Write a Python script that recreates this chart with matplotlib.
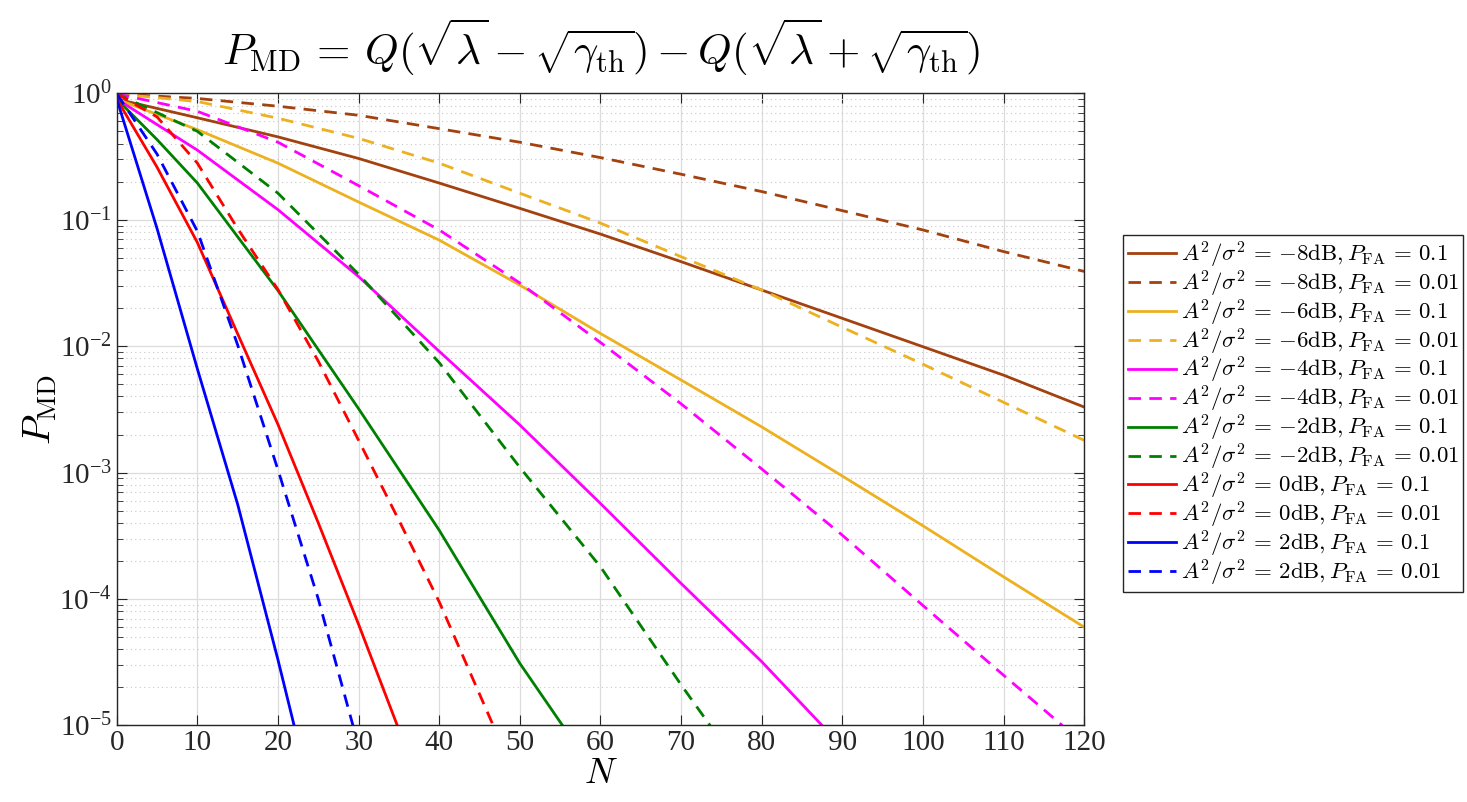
import numpy as np
import matplotlib
matplotlib.use("Agg")
import matplotlib.pyplot as plt

# values (P_MD vs N)
n_gentle = [0, 10, 20, 30, 40, 50, 60, 70, 80, 90, 100, 110, 120]
pmd_m8_01 = [0.9, 0.64, 0.452, 0.305, 0.195, 0.123, 0.077, 0.0466, 0.0278, 0.0166, 0.0099, 0.0059, 0.0033]
pmd_m8_001 = [0.99, 0.91, 0.79, 0.67, 0.525, 0.41, 0.31, 0.229, 0.167, 0.118, 0.083, 0.056, 0.039]
pmd_m6_01 = [0.9, 0.515, 0.28, 0.138, 0.069, 0.0304, 0.0126, 0.0054, 0.0023, 9.4e-4, 3.8e-4, 1.5e-4, 6.0e-5]
pmd_m6_001 = [0.99, 0.86, 0.635, 0.44, 0.28, 0.162, 0.094, 0.051, 0.0278, 0.0141, 0.0072, 0.0036, 0.0018]

n_m4_01 = [0, 10, 20, 30, 40, 50, 60, 70, 80, 87.5]
pmd_m4_01 = [0.9, 0.355, 0.12, 0.0355, 0.0091, 0.00238, 5.7e-4, 1.33e-4, 3.2e-5, 1e-5]
n_m4_001 = [0, 10, 20, 30, 40, 50, 60, 70, 80, 90, 100, 110, 117.3]
pmd_m4_001 = [0.99, 0.72, 0.41, 0.186, 0.083, 0.0316, 0.0107, 0.0035, 1.07e-3, 3.2e-4, 8.9e-5, 2.5e-5, 1e-5]

n_m2_01 = [0, 5, 10, 20, 30, 40, 50, 55.3]
pmd_m2_01 = [0.9, 0.43, 0.195, 0.0275, 0.0032, 3.5e-4, 3.1e-5, 1e-5]
n_m2_001 = [0, 10, 20, 30, 40, 50, 60, 70, 73.6]
pmd_m2_001 = [0.99, 0.50, 0.162, 0.037, 0.0074, 1.1e-3, 1.8e-4, 2.1e-5, 1e-5]

n_0_01 = [0, 5, 10, 15, 20, 25, 30, 34.8]
pmd_0_01 = [0.9, 0.26, 0.066, 0.0125, 0.0024, 4.0e-4, 6.3e-5, 1e-5]
n_0_001 = [0, 5, 10, 15, 20, 25, 30, 35, 40, 46.7]
pmd_0_001 = [0.99, 0.65, 0.28, 0.085, 0.028, 0.0076, 0.0018, 4.2e-4, 9.5e-5, 1e-5]

n_2_01 = [0, 5, 10, 15, 20, 22]
pmd_2_01 = [0.9, 0.085, 0.0066, 5.6e-4, 3.3e-5, 1e-5]
n_2_001 = [0, 5, 10, 15, 20, 25, 29.3]
pmd_2_001 = [0.99, 0.33, 0.081, 0.0102, 0.00105, 1.0e-4, 1e-5]

snr_labels = ["{-}8", "{-}6", "{-}4", "{-}2", "0", "2"]
pfa_labels = ["0.1", "0.01"]
colors = ["#A3410F", "#EDB120", "#FF00FF", "#008000", "#FF0000", "#0000FF"]

series = [
    (n_gentle, pmd_m8_01), (n_gentle, pmd_m8_001),
    (n_gentle, pmd_m6_01), (n_gentle, pmd_m6_001),
    (n_m4_01, pmd_m4_01), (n_m4_001, pmd_m4_001),
    (n_m2_01, pmd_m2_01), (n_m2_001, pmd_m2_001),
    (n_0_01, pmd_0_01), (n_0_001, pmd_0_001),
    (n_2_01, pmd_2_01), (n_2_001, pmd_2_001),
]

plt.rcParams["font.family"] = "serif"
plt.rcParams["font.serif"] = ["Liberation Serif", "DejaVu Serif"]
plt.rcParams["mathtext.fontset"] = "cm"

fig = plt.figure(figsize=(14.67, 8.02), dpi=100)
ax = fig.add_axes([0.0796, 0.0954, 0.6594, 0.7883])

for i, (n, p) in enumerate(series):
    snr = snr_labels[i // 2]
    pfa = pfa_labels[i % 2]
    label = r"$A^2/\sigma^2 \,=\, %s\mathrm{dB}, P_{\mathrm{FA}} \,=\, %s$" % (snr, pfa)
    ls = "-" if i % 2 == 0 else (0, (4.5, 3))
    ax.plot(n, p, color=colors[i // 2], linestyle=ls, linewidth=2.0, label=label)

ax.set_yscale("log")
ax.set_xlim(0, 120)
ax.set_ylim(1e-5, 1)
ax.set_xticks(np.arange(0, 121, 10))
ax.set_yticks([1e-5, 1e-4, 1e-3, 1e-2, 1e-1, 1])
ax.tick_params(axis="both", which="both", direction="in", top=True, right=True,
               labelsize=21, color="#262626", labelcolor="#262626")
ax.tick_params(which="major", length=7, width=0.8)
ax.tick_params(which="minor", length=4, width=0.6)
ax.tick_params(axis="x", which="minor", bottom=False, top=False)
ax.grid(True, which="major", color="#dcdcdc", linewidth=0.9)
ax.grid(True, which="minor", axis="y", color="#c8c8c8", linestyle=(0, (1, 3)), linewidth=0.8)
ax.set_axisbelow(True)
for s in ax.spines.values():
    s.set_color("#262626")
    s.set_linewidth(1.0)

ax.set_xlabel(r"$N$", fontsize=26, labelpad=1)
ax.set_ylabel(r"$P_{\mathrm{MD}}$", fontsize=28, labelpad=0)
ax.set_title(r"$P_{\mathrm{MD}} \,=\, Q(\sqrt{\lambda} - \sqrt{\gamma_{\mathrm{th}}}) - Q(\sqrt{\lambda} + \sqrt{\gamma_{\mathrm{th}}})$",
             fontsize=31, pad=20)

leg = ax.legend(loc="upper left", bbox_to_anchor=(0.7657, 0.707), bbox_transform=fig.transFigure,
                borderaxespad=0, fontsize=16.5, fancybox=False, framealpha=1, edgecolor="#262626",
                handlelength=2.1, handletextpad=0.2, labelspacing=-0.06, borderpad=0.2)
leg.get_frame().set_linewidth(1.0)

fig.savefig("out.png", dpi=100)
